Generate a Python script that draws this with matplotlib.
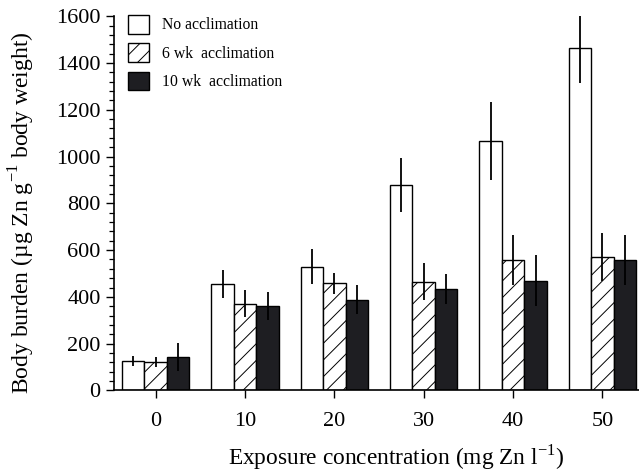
import numpy as np
import matplotlib
matplotlib.use("Agg")
import matplotlib.pyplot as plt
from matplotlib.ticker import MultipleLocator

plt.rcParams["font.family"] = ["Liberation Serif", "DejaVu Serif"]
plt.rcParams["mathtext.fontset"] = "custom"
plt.rcParams["mathtext.rm"] = "Liberation Serif"
plt.rcParams["hatch.linewidth"] = 0.7

concentrations = ["0", "10", "20", "30", "40", "50"]
labels = ["No acclimation", "6 wk  acclimation", "10 wk  acclimation"]
no_accl = [126, 455, 530, 879, 1067, 1463]
no_accl_err = [22, 60, 75, 114, 168, 148]
wk6 = [121, 370, 458, 465, 558, 572]
wk6_err = [22, 58, 46, 80, 105, 103]
wk10 = [142, 361, 388, 433, 470, 558]
wk10_err = [60, 59, 63, 65, 110, 107]

fig = plt.figure(figsize=(6.39, 4.72), dpi=100)
ax = fig.add_axes([0.178, 0.1727, 0.822, 0.793])

x = np.arange(len(concentrations))
w = 0.252
series = [
    (no_accl, no_accl_err, "white", ""),
    (wk6, wk6_err, "white", "//"),
    (wk10, wk10_err, "#1e1e22", ""),
]
for k, (vals, errs, fc, hatch) in enumerate(series):
    pos = x + (k - 1) * w
    ax.bar(pos, vals, width=w, facecolor=fc, edgecolor="black", hatch=hatch,
           linewidth=1.0, label=labels[k], zorder=2)
    ax.errorbar(pos, vals, yerr=errs, fmt="none", ecolor="black",
                elinewidth=1.3, capsize=0, zorder=3)

ax.set_xlim(-0.47, 5.41)
ax.set_ylim(0, 1600)
ax.set_xticks(x)
ax.set_xticklabels(concentrations)
ax.yaxis.set_major_locator(MultipleLocator(200))
ax.yaxis.set_minor_locator(MultipleLocator(40))
ax.tick_params(axis="both", which="major", direction="out", length=5.5,
               width=1.0, labelsize=16, pad=4)
ax.tick_params(axis="y", which="minor", direction="out", length=3.5, width=0.9)
ax.tick_params(axis="x", pad=10)

for side in ["top", "right"]:
    ax.spines[side].set_visible(False)
for side in ["left", "bottom"]:
    ax.spines[side].set_linewidth(1.2)

ax.set_ylabel("Body burden (µg Zn g$^{-1}$ body weight)", fontsize=17)
ax.yaxis.set_label_coords(-0.147, 0.474)
ax.set_xlabel("Exposure concentration (mg Zn l$^{-1}$)", fontsize=16.8)
ax.xaxis.set_label_coords(0.537, -0.138)

ax.legend(loc="upper left", bbox_to_anchor=(0.015, 1.02), frameon=False,
          fontsize=11.3, handlelength=1.35, handleheight=1.45,
          labelspacing=0.62, handletextpad=0.85, borderaxespad=0)

fig.savefig("out.png", dpi=100)
